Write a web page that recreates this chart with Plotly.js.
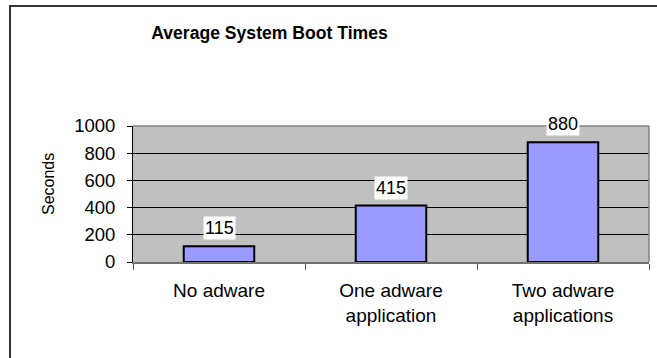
<!DOCTYPE html>
<html>
<head>
<meta charset="utf-8">
<script src="https://cdn.plot.ly/plotly-3.0.1.min.js"></script>
<style>
html,body{margin:0;padding:0;background:#fff;overflow:hidden;}
#frame{position:absolute;left:9px;top:5px;width:700px;height:400px;border:2px solid #333;box-sizing:border-box;}
#chart{position:absolute;left:0;top:0;width:657px;height:358px;}
</style>
</head>
<body>
<div id="frame"></div>
<div id="chart"></div>
<script>
const categories = ["No adware", "One adware<br>application", "Two adware<br>applications"];
const bootSeconds = [115, 415, 880];
const yTicks = [0, 200, 400, 600, 800, 1000];
const chartTitle = "Average System Boot Times";
const yTitle = "Seconds";

const FONT = "Liberation Sans, Arial, sans-serif";

const trace = {
  type: "bar",
  x: categories,
  y: bootSeconds,
  width: 0.41,
  marker: {color: "#9999FF", line: {color: "#000", width: 2}},
  hoverinfo: "x+y"
};

const labelAnnotations = categories.map((c, i) => ({
  x: c, y: bootSeconds[i], xref: "x", yref: "y",
  text: String(bootSeconds[i]), showarrow: false,
  yanchor: "bottom", yshift: 6, bgcolor: "#fff", borderpad: 1,
  font: {family: FONT, size: 18, color: "#000"}
}));

const layout = {
  width: 657, height: 358,
  margin: {l: 133, r: 8, t: 126, b: 96},
  paper_bgcolor: "rgba(0,0,0,0)",
  plot_bgcolor: "#C0C0C0",
  showlegend: false,
  title: {
    text: "<b>" + chartTitle + "</b>",
    font: {family: FONT, size: 17.6, color: "#000"},
    xref: "container", yref: "container",
    x: 269.5 / 657, xanchor: "center",
    y: 1 - 33 / 358, yanchor: "middle"
  },
  xaxis: {
    type: "category",
    showline: true, linecolor: "#707070", linewidth: 2,
    ticks: "outside", tickson: "boundaries", ticklen: 6, tickcolor: "#555", tickwidth: 1,
    tickfont: {family: FONT, size: 19, color: "#000"},
    ticklabelstandoff: 10,
    showgrid: false, zeroline: false, fixedrange: true
  },
  yaxis: {
    range: [0, 1000], tickvals: yTicks,
    showline: true, linecolor: "#000", linewidth: 1,
    ticks: "outside", ticklen: 5, tickcolor: "#000",
    tickfont: {family: FONT, size: 18.5, color: "#000"},
    ticklabelstandoff: 8,
    showgrid: true, gridcolor: "#000", gridwidth: 1,
    zeroline: false, fixedrange: true
  },
  shapes: [
    {type: "line", xref: "paper", yref: "paper", x0: 0, x1: 1, y0: 1, y1: 1, line: {color: "#808080", width: 1.5}},
    {type: "line", xref: "paper", yref: "paper", x0: 1, x1: 1, y0: 0, y1: 1, line: {color: "#808080", width: 1.5}}
  ],
  annotations: labelAnnotations.concat([{
    xref: "paper", yref: "paper",
    x: (48 - 133) / 516, y: (262 - 184) / 136,
    text: yTitle, textangle: -90, showarrow: false,
    xanchor: "center", yanchor: "middle",
    font: {family: FONT, size: 16, color: "#000"}
  }])
};

Plotly.newPlot("chart", [trace], layout, {displayModeBar: false, staticPlot: true});
</script>
</body>
</html>
